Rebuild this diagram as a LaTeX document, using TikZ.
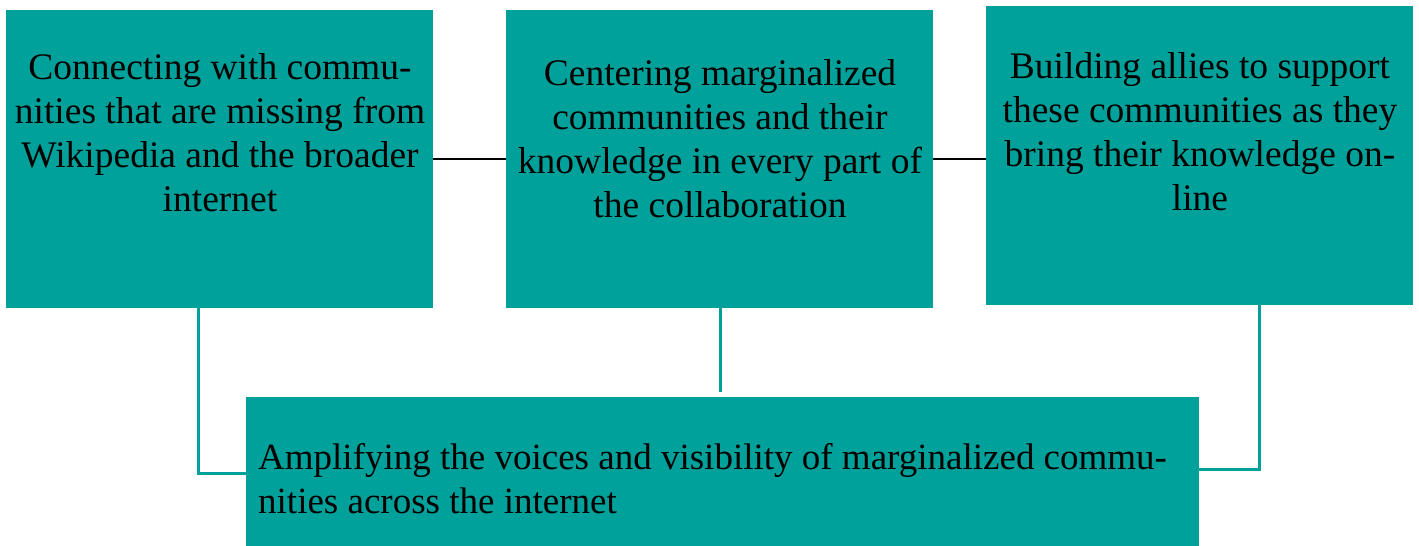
\documentclass[tikz,border=0pt]{standalone}
\usepackage{fontspec}
\setmainfont{Liberation Serif}
\definecolor{teal1}{RGB}{0,161,154}
\begin{document}
\begin{tikzpicture}[x=1pt,y=-1pt,
  box/.style={fill=teal1,draw=none,inner sep=0pt,anchor=north west},
  txt/.style={inner sep=0pt,font=\fontsize{37.5}{44}\selectfont,align=center},
  blackline/.style={draw=black,line width=2pt},
  tealline/.style={draw=teal1,line width=3pt}]
\useasboundingbox (0,0) rectangle (1419,546);
\node[box,minimum width=427pt,minimum height=298pt] (b1) at (6,10) {};
\node[box,minimum width=427pt,minimum height=298pt] (b2) at (506,10) {};
\node[box,minimum width=427pt,minimum height=299pt] (b3) at (986,6) {};
\node[box,minimum width=953pt,minimum height=149pt] (b4) at (246,397) {};
\node[txt] (t1) at (220,133) {Connecting with commu-\\nities that are missing from\\Wikipedia and the broader\\internet};
\node[txt] (t2) at (720,139) {Centering marginalized\\communities and their\\knowledge in every part of\\the collaboration};
\node[txt] (t3) at (1200,132) {Building allies to support\\these communities as they\\bring their knowledge on-\\line};
\node[txt,align=left,anchor=west,font=\fontsize{37}{44}\selectfont] (t4) at (258,479) {Amplifying the voices and visibility of marginalized commu-\\nities across the internet};
\coordinate (c1) at (198,473);
\coordinate (c2) at (720,392);
\coordinate (c3) at (1259,469);
\draw[blackline] (b1.east) -- (b2.west);
\draw[blackline] (b2.east) -- (b3.west |- b2.east);
\draw[tealline] (b1.south -| c1) -- (c1) -- (b4.west |- c1);
\draw[tealline] (b2.south -| c2) -- (c2);
\draw[tealline] (b3.south -| c3) -- (c3) -- (b4.east |- c3);
\end{tikzpicture}
\end{document}
